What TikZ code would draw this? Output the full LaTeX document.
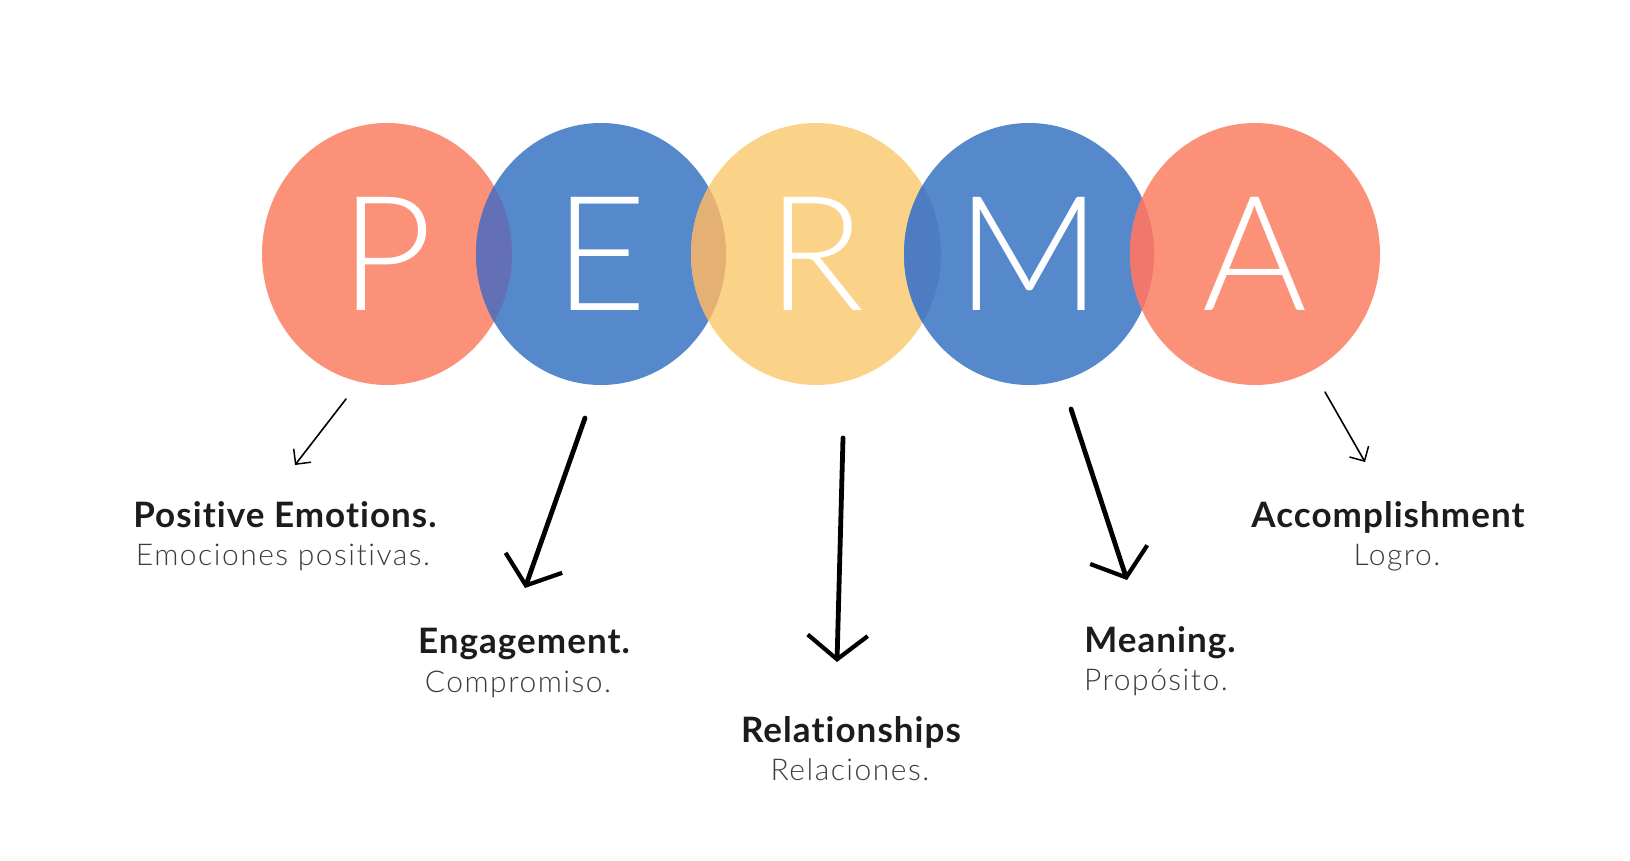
\documentclass[tikz,border=0pt]{standalone}
\usepackage{fontspec}
\setmainfont{Lato}[Ligatures=NoCommon,LetterSpace=3]
\newfontfamily\lightfont{Lato Light}[Ligatures=NoCommon,LetterSpace=5]
\newfontfamily\bigfont{Lato Light}
\usetikzlibrary{arrows.meta,shapes.geometric}

\definecolor{salmon}{RGB}{250,145,120}
\definecolor{permablue}{RGB}{85,137,204}
\definecolor{sand}{RGB}{251,211,136}
\definecolor{lensPE}{RGB}{100,112,182}
\definecolor{lensER}{RGB}{228,176,116}
\definecolor{lensRM}{RGB}{78,124,194}
\definecolor{lensMA}{RGB}{241,118,108}
\definecolor{ink}{RGB}{28,28,28}
\definecolor{greytext}{RGB}{60,60,60}

\begin{document}
\begin{tikzpicture}[x=1pt,y=-1pt,
  letterdot/.style={ellipse,minimum width=250pt,minimum height=262pt,inner sep=0pt,
    text=white,font=\bigfont\fontsize{160}{160}\selectfont},
  labelhead/.style={anchor=base,text=ink,font=\bfseries\fontsize{35}{40}\selectfont},
  labelsub/.style={anchor=base,text=greytext,font=\lightfont\fontsize{30}{34}\selectfont},
  thickarrow/.style={line width=4.8pt,line cap=round,
    -{Straight Barb[length=24pt,width=60pt,line width=4.2pt]}},
  thinarrow/.style={line width=1.6pt,line cap=round,
    -{Straight Barb[length=11pt,width=22pt,line width=1.5pt]}}]
  \useasboundingbox (0,0) rectangle (1630,860);

  % the five circles
  \node[name=P,letterdot,fill=salmon]    at (387,254)  {P};
  \node[name=E,letterdot,fill=permablue] at (601,254)  {E};
  \node[name=R,letterdot,fill=sand]      at (816,254)  {R};
  \node[name=M,letterdot,fill=permablue] at (1029,254) {M};
  \node[name=A,letterdot,fill=salmon]    at (1255,254) {A};

  % overlaps
  \begin{scope}
    \clip (P.center) ellipse[x radius=125pt,y radius=131pt];
    \fill[lensPE] (E.center) ellipse[x radius=125pt,y radius=131pt];
  \end{scope}
  \begin{scope}
    \clip (E.center) ellipse[x radius=125pt,y radius=131pt];
    \fill[lensER] (R.center) ellipse[x radius=125pt,y radius=131pt];
  \end{scope}
  \begin{scope}
    \clip (R.center) ellipse[x radius=125pt,y radius=131pt];
    \fill[lensRM] (M.center) ellipse[x radius=125pt,y radius=131pt];
  \end{scope}
  \begin{scope}
    \clip (M.center) ellipse[x radius=125pt,y radius=131pt];
    \fill[lensMA] (A.center) ellipse[x radius=125pt,y radius=131pt];
  \end{scope}

  % labels
  \node[name=pe,labelhead]   at (285,527)  {Positive Emotions.};
  \node[name=pes,labelsub]   at (283,565)  {Emociones positivas.};
  \node[name=eng,labelhead]  at (524,653)  {Engagement.};
  \node[name=engs,labelsub]  at (518,692)  {Compromiso.};
  \node[name=rel,labelhead]  at (851,742)  {Relationships};
  \node[name=rels,labelsub]  at (850,780)  {Relaciones.};
  \node[name=mea,labelhead]  at (1160,652) {Meaning.};
  \node[name=meas,labelsub]  at (1156,690) {Propósito.};
  \node[name=acc,labelhead]  at (1388,527) {Accomplishment};
  \node[name=accs,labelsub]  at (1397,565) {Logro.};

  % arrows
  \coordinate (p1) at (346,399);  \coordinate (p2) at (295,465);
  \coordinate (e1) at (585,418);  \coordinate (e2) at (525,588);
  \coordinate (r1) at (843,438);  \coordinate (r2) at (837,662);
  \coordinate (m1) at (1071,409); \coordinate (m2) at (1127,580);
  \coordinate (a1) at (1325,392); \coordinate (a2) at (1365,462);
  \draw[thinarrow]  (p1) -- (p2);
  \draw[thickarrow] (e1) -- (e2);
  \draw[thickarrow] (r1) -- (r2);
  \draw[thickarrow] (m1) -- (m2);
  \draw[thinarrow]  (a1) -- (a2);
\end{tikzpicture}
\end{document}
